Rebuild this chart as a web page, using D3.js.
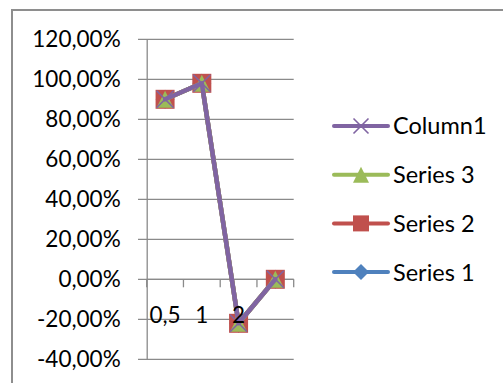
<!DOCTYPE html>
<html>
<head>
<meta charset="utf-8">
<script src="https://cdn.jsdelivr.net/npm/d3@7"></script>
<style>
  html, body { margin: 0; padding: 0; background: #fff; }
  svg { display: block; font-family: Lato, "Open Sans", sans-serif; }
</style>
</head>
<body>
<svg id="chart" width="503" height="383"></svg>
<script>
// Categories along the x axis (the fourth one has no label)
const categories = ["0,5", "1", "2", ""];
// Series values (fractions, shown as percentages)
const series1 = [0.90, 0.98, -0.22, 0.00];
const series2 = [0.90, 0.98, -0.22, 0.00];
const series3 = [0.90, 0.98, -0.22, 0.00];
const column1 = [0.90, 0.98, -0.22, 0.00];
// Value axis ticks
const yTicks = [-0.4, -0.2, 0, 0.2, 0.4, 0.6, 0.8, 1.0, 1.2];

const seriesList = [
  { name: "Series 1", values: series1, color: "#4F81BD", marker: "diamond" },
  { name: "Series 2", values: series2, color: "#C0504D", marker: "square" },
  { name: "Series 3", values: series3, color: "#9BBB59", marker: "triangle" },
  { name: "Column1", values: column1, color: "#8064A2", marker: "x" }
];

const svg = d3.select("#chart");
const gridColor = "#8a8a8a";
const fontSize = 22.5;

// chart frame
svg.append("rect")
  .attr("x", 12).attr("y", 10)
  .attr("width", 520).attr("height", 400)
  .attr("fill", "none").attr("stroke", "#8e8e8e").attr("stroke-width", 2);

const x = d3.scaleBand().domain(categories.map((c, i) => i)).range([146.7, 293.7]);
const y = d3.scaleLinear().domain([-0.4, 1.2]).range([359.3, 39.3]);

// percentage with comma decimal separator and a plain hyphen for negatives
const fmt = v => d3.format(".2f")(v * 100).replace(".", ",").replace("\u2212", "-") + "%";

// horizontal gridlines with tick stubs to the left
const grid = svg.append("g");
grid.selectAll("line.grid").data(yTicks).join("line")
  .attr("x1", 138).attr("x2", 293.7)
  .attr("y1", d => y(d)).attr("y2", d => y(d))
  .attr("stroke", gridColor).attr("stroke-width", 1.3);

// value axis
const yAxis = d3.axisLeft(y).tickValues(yTicks).tickSize(0).tickPadding(0).tickFormat(fmt);
const yg = svg.append("g").attr("transform", "translate(146.7,0)").call(yAxis);
yg.select(".domain").attr("stroke", gridColor).attr("stroke-width", 1.3);
yg.selectAll("text")
  .attr("x", -26).attr("dy", "0.34em")
  .attr("font-size", fontSize).attr("fill", "#000")
  .style("font-family", "Lato, sans-serif");

// category axis line at zero with tick marks between categories
svg.append("line")
  .attr("x1", 146.7).attr("x2", 293.7).attr("y1", y(0)).attr("y2", y(0))
  .attr("stroke", gridColor).attr("stroke-width", 1.3);
const bounds = d3.range(categories.length + 1).map(i => 146.7 + i * x.step());
svg.append("g").selectAll("line").data(bounds).join("line")
  .attr("x1", d => d).attr("x2", d => d)
  .attr("y1", y(0)).attr("y2", y(0) + 8)
  .attr("stroke", gridColor).attr("stroke-width", 1.3);

// marker shapes
function drawMarker(g, type, color, cx, cy, s) {
  if (type === "square") {
    g.append("rect").attr("x", cx - s / 2).attr("y", cy - s / 2)
      .attr("width", s).attr("height", s).attr("fill", color);
  } else if (type === "diamond") {
    g.append("path")
      .attr("d", `M${cx},${cy - s / 2}L${cx + s / 2},${cy}L${cx},${cy + s / 2}L${cx - s / 2},${cy}Z`)
      .attr("fill", color);
  } else if (type === "triangle") {
    g.append("path")
      .attr("d", `M${cx},${cy - s / 2}L${cx + s / 2},${cy + s / 2}L${cx - s / 2},${cy + s / 2}Z`)
      .attr("fill", color);
  } else if (type === "x") {
    const h = s / 2;
    g.append("path")
      .attr("d", `M${cx - h},${cy - h}L${cx + h},${cy + h}M${cx + h},${cy - h}L${cx - h},${cy + h}`)
      .attr("stroke", color).attr("stroke-width", 1.6).attr("fill", "none");
  }
}

const markerSize = { square: 19, diamond: 19, triangle: 17, x: 17 };

// series lines, each followed by its markers
const line = d3.line().x((d, i) => x(i) + x.bandwidth() / 2).y(d => y(d));
seriesList.forEach(s => {
  const g = svg.append("g");
  g.append("path").datum(s.values)
    .attr("d", line).attr("fill", "none")
    .attr("stroke", s.color).attr("stroke-width", 4.5)
    .attr("stroke-linejoin", "round").attr("stroke-linecap", "round");
  s.values.forEach((v, i) => {
    drawMarker(g, s.marker, s.color, x(i) + x.bandwidth() / 2, y(v), markerSize[s.marker]);
  });
});

// category labels drawn above the plotted series
const xAxis = d3.axisBottom(x).tickSize(0).tickFormat(i => categories[i]);
const xg = svg.append("g").attr("transform", `translate(0,${y(0)})`).call(xAxis);
xg.select(".domain").remove();
xg.selectAll("text")
  .attr("y", 44).attr("dy", 0)
  .attr("font-size", fontSize).attr("fill", "#000")
  .style("font-family", "Lato, sans-serif");

// legend, listed in reverse drawing order
const legendItems = seriesList.slice().reverse();
const lg = svg.append("g");
legendItems.forEach((s, i) => {
  const cy = 126 + i * 48.7;
  const g = lg.append("g");
  g.append("line").attr("x1", 334).attr("x2", 388).attr("y1", cy).attr("y2", cy)
    .attr("stroke", s.color).attr("stroke-width", 4).attr("stroke-linecap", "round");
  drawMarker(g, s.marker, s.color, 361, cy, s.marker === "x" ? 15 : 16);
  g.append("text").attr("x", 393).attr("y", cy).attr("dy", "0.36em")
    .attr("font-size", 23.5).attr("fill", "#000").text(s.name);
});
</script>
</body>
</html>
